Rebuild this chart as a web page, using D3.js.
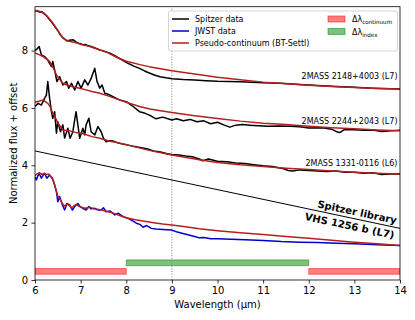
<!DOCTYPE html>
<html>
<head>
<meta charset="utf-8">
<script src="https://cdn.jsdelivr.net/npm/d3@7"></script>
<style>
  body { margin: 0; background: #fff; }
  svg { display: block; font-family: "DejaVu Sans", sans-serif; }
</style>
</head>
<body>
<svg id="chart" width="415" height="320"></svg>
<script>
// spectra: [wavelength (um), flux + offset]
const spitzer2148 = [[6.0,9.40],[6.05,9.38],[6.1,9.34],[6.15,9.36],[6.2,9.28],[6.25,9.22],[6.3,9.12],[6.35,9.02],[6.4,8.92],[6.45,8.80],[6.5,8.70],[6.55,8.56],[6.6,8.47],[6.65,8.40],[6.7,8.34],[6.76,8.36],[6.83,8.38],[6.9,8.30],[6.95,8.26],[7.0,8.24],[7.05,8.20],[7.1,8.21],[7.15,8.18],[7.23,8.14],[7.3,8.10],[7.42,8.02],[7.5,7.99],[7.64,7.91],[7.75,7.82],[7.85,7.73],[7.95,7.63],[8.07,7.53],[8.18,7.45],[8.29,7.38],[8.4,7.29],[8.52,7.21],[8.63,7.14],[8.74,7.09],[8.87,7.05],[9.0,7.02],[9.25,6.99],[9.5,6.97],[9.75,6.95],[10.0,6.93],[10.5,6.91],[11.0,6.88],[11.4,6.86],[11.8,6.82],[12.2,6.78],[12.6,6.75],[13.0,6.72],[13.4,6.69],[13.8,6.67],[14.0,6.66]];
const model2148 = [[6.0,9.38],[6.05,9.40],[6.1,9.36],[6.2,9.30],[6.3,9.14],[6.4,8.94],[6.5,8.70],[6.6,8.46],[6.7,8.34],[6.8,8.31],[6.9,8.27],[7.0,8.22],[7.2,8.14],[7.4,8.04],[7.6,7.92],[7.8,7.76],[8.0,7.63],[8.3,7.51],[8.5,7.44],[8.75,7.37],[9.0,7.30],[9.5,7.18],[10.0,7.07],[10.5,6.98],[11.0,6.90],[11.5,6.84],[12.0,6.79],[12.5,6.75],[13.0,6.71],[13.5,6.68],[14.0,6.66]];

const spitzer2244 = [[6.0,8.00],[6.04,8.05],[6.09,8.14],[6.14,7.85],[6.21,7.79],[6.28,7.67],[6.36,7.44],[6.39,7.62],[6.43,7.33],[6.48,6.92],[6.54,7.09],[6.61,6.80],[6.69,6.92],[6.74,6.69],[6.80,6.86],[6.87,6.63],[6.94,6.92],[7.01,6.69],[7.09,6.98],[7.16,6.80],[7.23,7.03],[7.31,7.38],[7.36,6.92],[7.42,6.69],[7.47,6.80],[7.53,6.51],[7.60,6.48],[7.71,6.39],[7.85,6.28],[8.0,6.22],[8.15,6.05],[8.29,5.87],[8.4,5.82],[8.52,5.74],[8.65,5.62],[8.8,5.68],[9.0,5.58],[9.1,5.62],[9.25,5.55],[9.4,5.60],[9.55,5.52],[9.7,5.55],[9.85,5.45],[10.0,5.50],[10.15,5.40],[10.27,5.33],[10.4,5.40],[10.55,5.42],[10.7,5.40],[10.9,5.38],[11.1,5.36],[11.36,5.37],[11.6,5.36],[11.8,5.34],[12.0,5.30],[12.3,5.31],[12.5,5.26],[12.6,5.18],[12.68,5.14],[12.78,5.24],[13.0,5.24],[13.2,5.22],[13.4,5.23],[13.6,5.18],[13.8,5.20],[14.0,5.22]];
const model2244 = [[6.0,7.92],[6.1,7.85],[6.18,7.79],[6.25,7.70],[6.32,7.62],[6.4,7.40],[6.47,7.15],[6.55,6.98],[6.61,6.86],[6.7,6.80],[6.83,6.74],[7.0,6.68],[7.12,6.63],[7.25,6.57],[7.42,6.51],[7.6,6.42],[7.85,6.28],[8.0,6.20],[8.29,6.05],[8.52,5.96],[8.75,5.90],[9.0,5.84],[9.5,5.73],[10.0,5.63],[10.5,5.54],[11.0,5.47],[11.5,5.42],[12.0,5.36],[12.5,5.31],[13.0,5.27],[13.5,5.23],[14.0,5.20]];

const spitzer1331 = [[6.0,6.05],[6.07,6.16],[6.14,6.10],[6.21,6.34],[6.25,6.45],[6.28,6.92],[6.32,6.34],[6.36,5.87],[6.39,5.64],[6.43,5.87],[6.47,5.12],[6.50,5.52],[6.56,5.17],[6.61,5.41],[6.65,4.95],[6.72,5.29],[6.77,4.94],[6.83,5.17],[6.87,5.58],[6.90,5.87],[6.94,5.41],[6.98,4.94],[7.05,5.29],[7.09,5.06],[7.12,5.41],[7.18,5.64],[7.23,5.17],[7.31,5.06],[7.38,5.35],[7.45,5.17],[7.50,4.94],[7.56,4.82],[7.64,4.86],[7.71,4.85],[7.78,4.80],[7.85,4.77],[8.0,4.72],[8.15,4.66],[8.3,4.62],[8.45,4.58],[8.6,4.50],[8.75,4.46],[8.9,4.40],[9.0,4.38],[9.15,4.36],[9.3,4.32],[9.45,4.30],[9.6,4.22],[9.68,4.16],[9.8,4.22],[10.0,4.14],[10.2,4.12],[10.4,4.08],[10.6,4.06],[10.8,4.02],[11.0,3.98],[11.2,3.96],[11.4,3.90],[11.55,3.82],[11.65,3.80],[11.8,3.84],[12.0,3.82],[12.2,3.80],[12.4,3.78],[12.6,3.80],[12.8,3.76],[13.0,3.76],[13.2,3.72],[13.4,3.74],[13.6,3.68],[13.8,3.70],[14.0,3.70]];
const model1331 = [[6.0,6.20],[6.1,6.24],[6.18,6.28],[6.28,6.16],[6.33,6.05],[6.39,5.81],[6.47,5.58],[6.5,5.47],[6.61,5.23],[6.77,5.20],[6.9,5.14],[7.06,5.10],[7.25,5.00],[7.42,4.94],[7.64,4.84],[7.8,4.79],[8.0,4.72],[8.5,4.52],[9.0,4.36],[9.6,4.19],[10.0,4.10],[10.5,4.02],[11.0,3.96],[11.5,3.90],[12.0,3.85],[12.5,3.80],[13.0,3.76],[13.5,3.72],[14.0,3.69]];

const jwstVHS = [[6.0,3.60],[6.03,3.49],[6.06,3.62],[6.09,3.72],[6.14,3.55],[6.18,3.66],[6.21,3.72],[6.26,3.55],[6.32,3.66],[6.38,3.55],[6.43,3.31],[6.47,3.08],[6.50,2.73],[6.54,2.91],[6.60,2.62],[6.65,2.44],[6.70,2.67],[6.76,2.62],[6.82,2.44],[6.87,2.56],[6.94,2.67],[6.99,2.56],[7.05,2.50],[7.12,2.44],[7.18,2.56],[7.23,2.48],[7.31,2.50],[7.38,2.44],[7.45,2.44],[7.50,2.52],[7.56,2.38],[7.64,2.41],[7.75,2.27],[7.82,2.33],[7.93,2.21],[8.04,2.15],[8.15,2.05],[8.22,1.98],[8.3,1.94],[8.37,1.84],[8.45,1.90],[8.55,1.80],[8.65,1.78],[8.8,1.76],[9.0,1.74],[9.1,1.68],[9.2,1.64],[9.35,1.58],[9.5,1.52],[9.6,1.47],[9.7,1.48],[9.85,1.44],[10.0,1.44],[10.3,1.42],[10.6,1.40],[11.0,1.38],[11.4,1.34],[11.8,1.32],[12.2,1.31],[12.6,1.28],[13.0,1.26],[13.5,1.23],[14.0,1.20]];
const modelVHS = [[6.0,3.65],[6.05,3.70],[6.1,3.74],[6.15,3.68],[6.2,3.72],[6.25,3.68],[6.3,3.70],[6.35,3.60],[6.4,3.48],[6.45,3.20],[6.5,2.92],[6.55,2.80],[6.6,2.66],[6.65,2.58],[6.7,2.65],[6.75,2.60],[6.8,2.52],[6.85,2.58],[6.9,2.64],[6.95,2.58],[7.0,2.55],[7.1,2.50],[7.2,2.54],[7.3,2.48],[7.4,2.46],[7.5,2.42],[7.6,2.38],[7.7,2.34],[7.8,2.28],[7.9,2.22],[8.0,2.17],[8.2,2.10],[8.4,2.05],[8.6,2.00],[8.8,1.95],[9.0,1.92],[9.3,1.86],[9.6,1.79],[10.0,1.72],[10.5,1.65],[11.0,1.59],[11.5,1.52],[12.0,1.46],[12.5,1.39],[13.0,1.32],[13.5,1.26],[14.0,1.20]];

// straight line separating the spitzer library from VHS 1256 b
const separator = [[6, 4.5], [14, 1.8]];

// wavelength windows
const continuumBands = [[6, 8], [12, 14]];
const indexBands = [[8, 12]];
const continuumY = [0.2, 0.4];
const indexY = [0.5, 0.7];

const xTicks = [6, 7, 8, 9, 10, 11, 12, 13, 14];
const yTicks = [0, 2, 4, 6, 8];

const objectLabels = [
    { name: "2MASS 2148+4003 (L7)", y: 7.0 },
    { name: "2MASS 2244+2043 (L7)", y: 5.45 },
    { name: "2MASS 1331-0116 (L6)", y: 3.97 }
];

const black = "#000000", blue = "#0000cc", red = "#b41f1f";

const svg = d3.select("#chart");
const margin = { left: 35, right: 15, top: 6.7, bottom: 40 };
const width = 415, height = 320;

let x = d3.scaleLinear().domain([6, 14]).range([margin.left, width - margin.right]);
let y = d3.scaleLinear().domain([0, 9.53]).range([height - margin.bottom, margin.top]);

svg.append("defs").append("clipPath").attr("id", "plotClip")
    .append("rect")
    .attr("x", x(6)).attr("y", y(9.53))
    .attr("width", x(14) - x(6)).attr("height", y(0) - y(9.53));

let plot = svg.append("g").attr("clip-path", "url(#plotClip)");

// bands
plot.selectAll(".cont")
    .data(continuumBands)
    .join("rect")
    .attr("class", "cont")
    .attr("x", d => x(d[0]))
    .attr("width", d => x(d[1]) - x(d[0]))
    .attr("y", y(continuumY[1]))
    .attr("height", y(continuumY[0]) - y(continuumY[1]))
    .style("fill", "red").style("fill-opacity", 0.5)
    .style("stroke", "red").style("stroke-opacity", 0.5).style("stroke-width", 1);

plot.selectAll(".idx")
    .data(indexBands)
    .join("rect")
    .attr("class", "idx")
    .attr("x", d => x(d[0]))
    .attr("width", d => x(d[1]) - x(d[0]))
    .attr("y", y(indexY[1]))
    .attr("height", y(indexY[0]) - y(indexY[1]))
    .style("fill", "green").style("fill-opacity", 0.5)
    .style("stroke", "green").style("stroke-opacity", 0.5).style("stroke-width", 1);

// dotted line at 9 um
plot.append("line")
    .attr("x1", x(9)).attr("x2", x(9))
    .attr("y1", y(0)).attr("y2", y(9.53))
    .style("stroke", "#808080").style("stroke-width", 1)
    .style("stroke-dasharray", "1,1.65");

let line = d3.line().x(d => x(d[0])).y(d => y(d[1]));

plot.append("path").datum(separator)
    .attr("d", line)
    .style("fill", "none").style("stroke", black).style("stroke-width", 1);

const spectra = [
    { data: spitzer2148, color: black },
    { data: spitzer2244, color: black },
    { data: spitzer1331, color: black },
    { data: jwstVHS, color: blue },
    { data: model2148, color: red },
    { data: model2244, color: red },
    { data: model1331, color: red },
    { data: modelVHS, color: red }
];

plot.selectAll(".spec")
    .data(spectra)
    .join("path")
    .attr("class", "spec")
    .attr("d", d => line(d.data))
    .style("fill", "none")
    .style("stroke", d => d.color)
    .style("stroke-width", 1.5)
    .style("stroke-linejoin", "round");

// object labels
svg.selectAll(".objlabel")
    .data(objectLabels)
    .join("text")
    .attr("class", "objlabel")
    .attr("x", x(14) - 2.5)
    .attr("y", d => y(d.y))
    .attr("text-anchor", "end")
    .style("font-size", "8px")
    .text(d => d.name);

// rotated labels along the separator
let angle = Math.atan2(y(separator[1][1]) - y(separator[0][1]), x(separator[1][0]) - x(separator[0][0])) * 180 / Math.PI;
let sepAt = xv => separator[0][1] + (separator[1][1] - separator[0][1]) * (xv - separator[0][0]) / (separator[1][0] - separator[0][0]);
const sepLabels = [
    { text: "Spitzer library", xv: 13.03, off: -3.5 },
    { text: "VHS 1256 b (L7)", xv: 12.93, off: 11.5 }
];
svg.selectAll(".seplabel")
    .data(sepLabels)
    .join("text")
    .attr("class", "seplabel")
    .attr("transform", d => `translate(${x(d.xv)},${y(sepAt(d.xv))}) rotate(${angle})`)
    .attr("y", d => d.off)
    .attr("text-anchor", "middle")
    .style("font-size", "10px")
    .style("font-weight", "bold")
    .text(d => d.text);

// axes
let xAxis = d3.axisBottom(x).tickValues(xTicks).tickSize(3.5).tickPadding(3.5).tickFormat(d3.format("d"));
let yAxis = d3.axisLeft(y).tickValues(yTicks).tickSize(3.5).tickPadding(3.5).tickFormat(d3.format("d"));

let gx = svg.append("g").attr("transform", `translate(0,${y(0)})`).call(xAxis);
let gy = svg.append("g").attr("transform", `translate(${x(6)},0)`).call(yAxis);
[gx, gy].forEach(g => {
    g.select(".domain").remove();
    g.selectAll(".tick line").style("stroke", "#000").style("stroke-width", 0.8);
    g.selectAll(".tick text").style("font-size", "10px").style("font-family", "DejaVu Sans").style("fill", "#000");
});

// frame
svg.append("rect")
    .attr("x", x(6)).attr("y", y(9.53))
    .attr("width", x(14) - x(6)).attr("height", y(0) - y(9.53))
    .style("fill", "none").style("stroke", "#000").style("stroke-width", 0.8);

svg.append("text")
    .attr("x", (x(6) + x(14)) / 2).attr("y", 308)
    .attr("text-anchor", "middle")
    .style("font-size", "10px")
    .text("Wavelength (μm)");

svg.append("text")
    .attr("transform", `translate(17,${(y(0) + y(9.53)) / 2}) rotate(-90)`)
    .attr("text-anchor", "middle")
    .style("font-size", "10px")
    .text("Normalized flux + offset");

// legend
let legend = svg.append("g");
legend.append("rect")
    .attr("x", 168.5).attr("y", 11).attr("width", 229).attr("height", 40)
    .attr("rx", 2)
    .style("fill", "#fff").style("fill-opacity", 0.8)
    .style("stroke", "#cccccc").style("stroke-width", 0.8);

const lineEntries = [
    { label: "Spitzer data", color: black },
    { label: "JWST data", color: blue },
    { label: "Pseudo-continuum (BT-Settl)", color: red }
];
let le = legend.selectAll(".le")
    .data(lineEntries)
    .join("g")
    .attr("class", "le")
    .attr("transform", (d, i) => `translate(172,${19 + 12 * i})`);
le.append("line")
    .attr("x1", 0).attr("x2", 17)
    .style("stroke", d => d.color).style("stroke-width", 1.5);
le.append("text")
    .attr("x", 23).attr("y", 3)
    .style("font-size", "8px")
    .text(d => d.label);

const patchEntries = [
    { sub: "continuum", color: "red" },
    { sub: "index", color: "green" }
];
let pe = legend.selectAll(".pe")
    .data(patchEntries)
    .join("g")
    .attr("class", "pe")
    .attr("transform", (d, i) => `translate(328,${16 + 12.5 * i})`);
pe.append("rect")
    .attr("width", 17).attr("height", 6)
    .style("fill", d => d.color).style("fill-opacity", 0.5)
    .style("stroke", d => d.color).style("stroke-opacity", 0.5);
let pt = pe.append("text")
    .attr("x", 24).attr("y", 6)
    .style("font-size", "8px");
pt.append("tspan").text("Δλ");
pt.append("tspan").attr("dy", 2).style("font-size", "5.6px").text(d => d.sub);
</script>
</body>
</html>
